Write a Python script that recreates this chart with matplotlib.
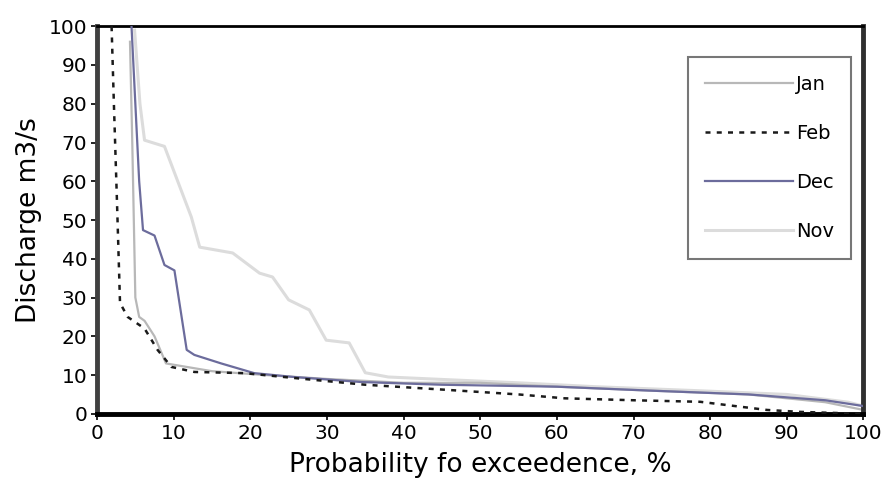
import matplotlib.pyplot as plt

plt.rcParams['font.family'] = ['DejaVu Sans']

# Flow duration curves
jan_x = [4.3, 4.6, 5.0, 5.5, 6.2, 7.5, 9.0, 12, 15, 22, 30, 40, 50, 60, 72, 85, 95, 100]
jan_y = [96, 70, 30, 25, 24, 20, 13, 12, 11, 10, 9, 8, 8, 7, 6, 5, 3, 1]

feb_x = [1.9, 2.2, 2.6, 3.0, 4.0, 6.2, 7.9, 9.7, 12.7, 19.2, 27, 35, 45.5, 55, 61, 70, 78.7, 87.4, 91.7, 100]
feb_y = [100, 80, 55, 28.6, 25, 22, 16.5, 12.1, 10.8, 10.5, 9, 7.5, 6.2, 5, 4, 3.5, 3.1, 1.0, 0.5, 0]

dec_x = [4.5, 5.0, 5.5, 6.0, 7.5, 8.8, 10.1, 11.7, 12.7, 16.2, 20.5, 25.7, 34.5, 45, 60, 72, 85, 95, 100]
dec_y = [100, 80, 60, 47.4, 46, 38.4, 37, 16.5, 15.2, 13, 10.5, 9.5, 8.2, 7.5, 7, 6, 5, 3.5, 2]

nov_x = [4.9, 5.6, 6.2, 8.8, 12.3, 13.4, 17.7, 21.2, 22.9, 25, 27.7, 29.9, 32.9, 35, 38, 45.8, 55, 65, 78, 90, 98, 100]
nov_y = [99, 80, 70.6, 69, 50.8, 43, 41.5, 36.3, 35.3, 29.4, 26.8, 19, 18.3, 10.6, 9.5, 8.8, 8, 7, 6, 5, 3, 2]

fig = plt.figure(figsize=(8.82, 4.95), dpi=100)
ax = fig.add_axes([0.110, 0.164, 0.869, 0.783])

ax.plot(nov_x, nov_y, color='#dcdcdc', lw=2.2, label='Nov', zorder=1)
ax.plot(jan_x, jan_y, color='#b8b8b8', lw=1.6, label='Jan', zorder=2)
ax.plot(dec_x, dec_y, color='#6c6c9c', lw=1.6, label='Dec', zorder=3)
ax.plot(feb_x, feb_y, color='#1a1a1a', lw=1.8, ls=(0, (2, 2.5)), label='Feb', zorder=4)

ax.set_xlim(0, 100)
ax.set_ylim(0, 100)
ax.set_xticks(range(0, 101, 10))
ax.set_yticks(range(0, 101, 10))
ax.tick_params(direction='out', length=4, width=1.2, labelsize=14.5, pad=3)

for side in ['left', 'bottom', 'right']:
    ax.spines[side].set_linewidth(3.5)
ax.spines['left'].set_color('#404040')
ax.spines['right'].set_color('#303030')
ax.spines['top'].set_linewidth(2)

ax.set_xlabel('Probability fo exceedence, %', fontsize=19, labelpad=7)
ax.set_ylabel('Discharge m3/s', fontsize=19, labelpad=5)

handles, labels = ax.get_legend_handles_labels()
order = [labels.index(n) for n in ['Jan', 'Feb', 'Dec', 'Nov']]
leg = ax.legend([handles[i] for i in order], [labels[i] for i in order],
                loc='upper right', bbox_to_anchor=(0.984, 0.92),
                fontsize=14, frameon=True, fancybox=False,
                labelspacing=1.55, handlelength=4.5, handletextpad=0.15,
                borderpad=0.9, borderaxespad=0)
leg.get_frame().set_edgecolor('#555555')
leg.get_frame().set_linewidth(1.5)

fig.savefig('out.png', dpi=100)
